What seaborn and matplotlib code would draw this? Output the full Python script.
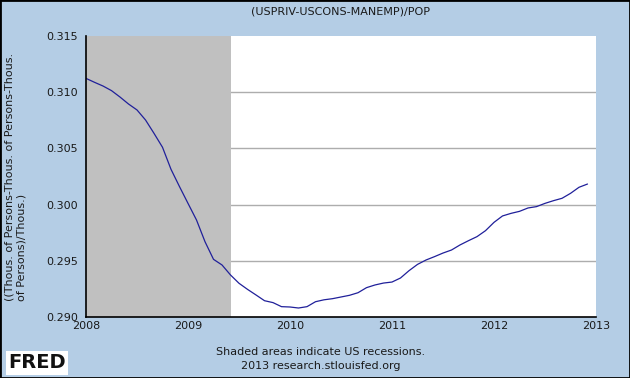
import numpy as np
import pandas as pd
import matplotlib
matplotlib.use("Agg")
import matplotlib.pyplot as plt
import seaborn as sns
from matplotlib.patches import Rectangle

# ── Data (monthly, Jan 2008 .. Dec 2012) ──────────────────────────────────────
start_year = 2008
ratio = [
    0.31123, 0.31088, 0.31055, 0.31014, 0.30957, 0.30895, 0.30842, 0.30753,
    0.30634, 0.30510, 0.30314, 0.30160, 0.30011, 0.29863, 0.29670, 0.29513,
    0.29463, 0.29374, 0.29300, 0.29246, 0.29196, 0.29145, 0.29128, 0.29092,
    0.29089, 0.29080, 0.29092, 0.29136, 0.29153, 0.29163, 0.29178, 0.29193,
    0.29216, 0.29261, 0.29285, 0.29302, 0.29311, 0.29347, 0.29412, 0.29468,
    0.29507, 0.29537, 0.29569, 0.29596, 0.29641, 0.29679, 0.29715, 0.29768,
    0.29842, 0.29899, 0.29922, 0.29940, 0.29970, 0.29982, 0.30011, 0.30035,
    0.30056, 0.30100, 0.30154, 0.30183,
]
recession_start = 2008.0
recession_end = 2009 + 5 / 12   # June 2009
year_ticks = [2008, 2009, 2010, 2011, 2012, 2013]
value_ticks = [0.290, 0.295, 0.300, 0.305, 0.310, 0.315]

df = pd.DataFrame({
    "date": [start_year + i / 12 for i in range(len(ratio))],
    "ratio": ratio,
})

# ── Style ─────────────────────────────────────────────────────────────────────
BG = "#B4CDE5"
TXT = "#1a1a1a"
sns.set_style("white")
plt.rcParams["font.family"] = ["DejaVu Sans"]

fig = plt.figure(figsize=(6.3, 3.78), dpi=100, facecolor=BG)
ax = fig.add_axes([86 / 630, 1 - 317 / 378, 510 / 630, 281 / 378])
ax.set_facecolor("white")

# gridlines (inner ticks only), recession shading on top of them
for v in value_ticks[1:-1]:
    ax.axhline(v, color="#ADADAD", lw=1.0, zorder=1)
ax.axvspan(recession_start, recession_end, color="#C0C0C0", lw=0, zorder=2)

sns.lineplot(data=df, x="date", y="ratio", ax=ax, color="#20209A",
             linewidth=0.9, zorder=3)

ax.set_xlim(year_ticks[0], year_ticks[-1])
ax.set_ylim(value_ticks[0], value_ticks[-1])
ax.set_xticks(year_ticks)
ax.set_xticklabels([str(y) for y in year_ticks])
ax.set_yticks(value_ticks)
ax.set_yticklabels([f"{v:.3f}" for v in value_ticks])

for s in ["top", "right"]:
    ax.spines[s].set_visible(False)
for s in ["left", "bottom"]:
    ax.spines[s].set_color("black")
    ax.spines[s].set_linewidth(1.2)
    ax.spines[s].set_zorder(5)

ax.tick_params(axis="x", direction="in", length=4, width=1, colors="black",
               labelcolor=TXT, labelsize=8, pad=3)
ax.tick_params(axis="y", direction="out", length=4, width=1, colors="black",
               labelcolor=TXT, labelsize=8, pad=2)
ax.set_xlabel("")
ax.set_ylabel("((Thous. of Persons-Thous. of Persons-Thous.\nof Persons)/Thous.)",
              fontsize=8, color=TXT, labelpad=14, ha="center",
              multialignment="left")

# ── Text around the plot ──────────────────────────────────────────────────────
fig.text(341 / 630, 1 - 12 / 378, "(USPRIV-USCONS-MANEMP)/POP", ha="center",
         va="center", fontsize=8, color=TXT)
fig.text(321 / 630, 1 - 352 / 378, "Shaded areas indicate US recessions.",
         ha="center", va="center", fontsize=8, color=TXT)
fig.text(321 / 630, 1 - 366 / 378, "2013 research.stlouisfed.org",
         ha="center", va="center", fontsize=8, color=TXT)
fig.text(8 / 630, 1 - 363 / 378, "FRED", ha="left", va="center",
         fontsize=14, fontweight="bold", color="#111111",
         bbox=dict(facecolor="white", edgecolor="none", pad=1.5))

# thin black frame around the whole image
fig.patches.append(Rectangle((0, 0), 1, 1, transform=fig.transFigure,
                             fill=False, edgecolor="black", linewidth=2))

fig.savefig("out.png", dpi=100, facecolor=BG)
